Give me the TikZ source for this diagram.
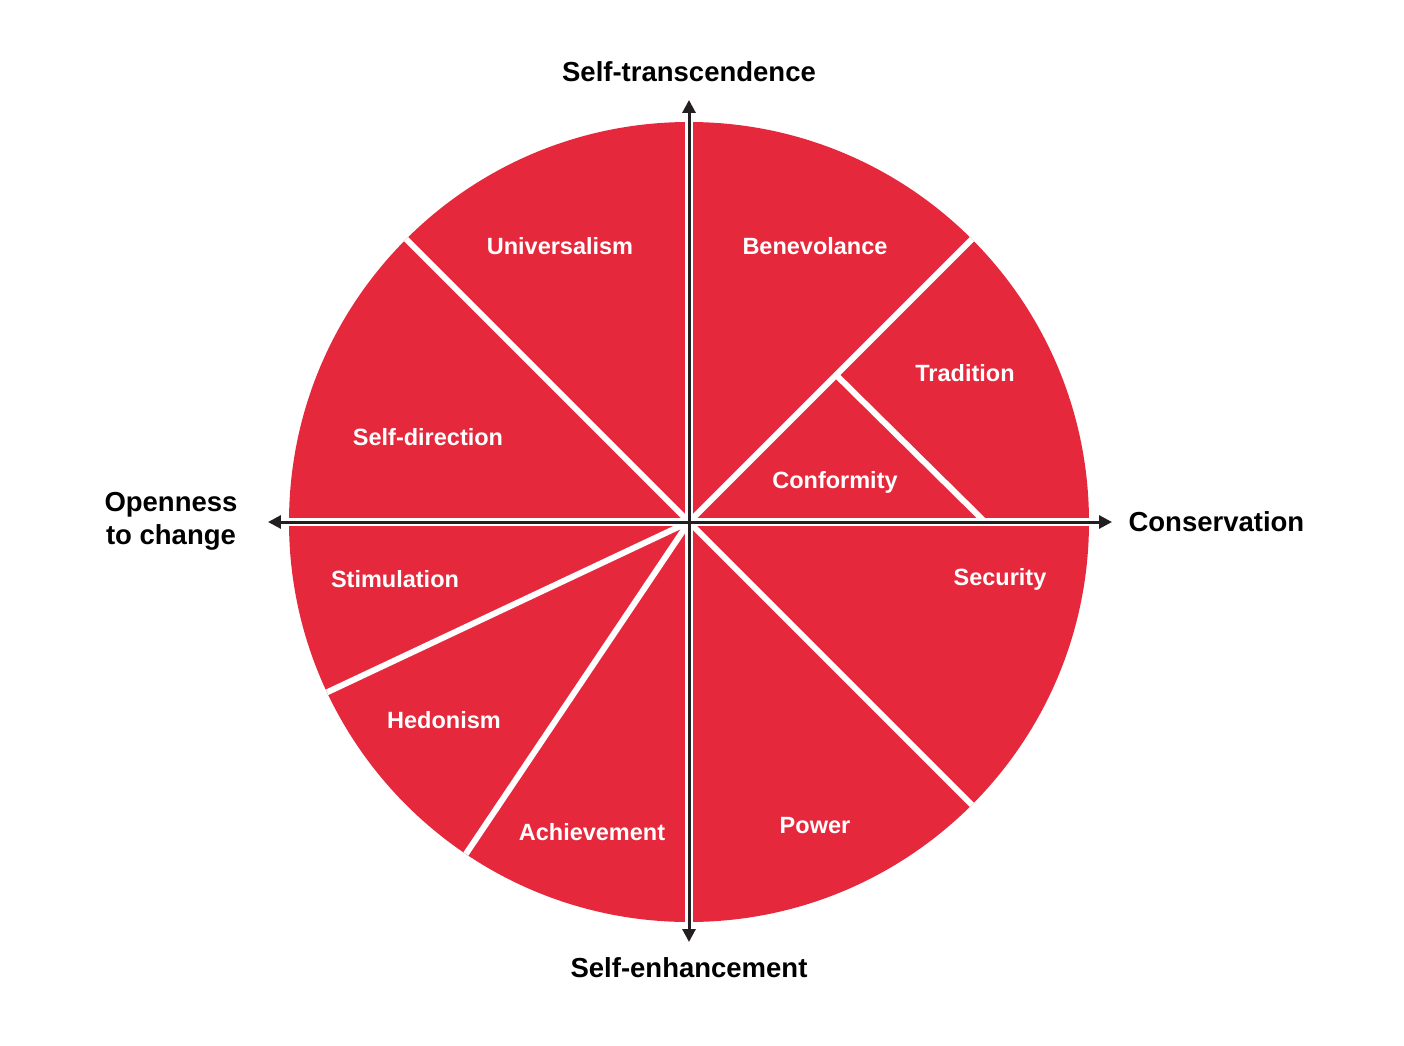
\documentclass[tikz,border=0pt]{standalone}
\usepackage{fontspec}
\setmainfont{Liberation Sans}
\usetikzlibrary{arrows.meta}
\definecolor{wheelred}{RGB}{230,40,60}
\definecolor{axisblack}{RGB}{35,31,32}
\begin{document}
\begin{tikzpicture}[x=1pt,y=1pt,
  divider/.style={white,line width=6pt},
  axisgap/.style={white,line width=8pt},
  axisline/.style={axisblack,line width=3pt,{Triangle[length=13pt,width=13pt]}-{Triangle[length=13pt,width=13pt]}},
  seglabel/.style={text=white,font=\bfseries\fontsize{23.5}{27}\selectfont},
  axislabel/.style={text=black,font=\bfseries\fontsize{27.5}{33}\selectfont,align=center}]
\useasboundingbox (-689,-523) rectangle (715,522);
\coordinate (O) at (0,0);
\fill[wheelred] (O) circle (400);
% dividers
\coordinate (d1) at (135:400);
\coordinate (d2) at (45:400);
\coordinate (d3) at (-45:400);
\coordinate (d4) at (205.2:400);
\coordinate (d5) at (236.1:400);
\coordinate (c1) at (45:208);
\coordinate (c2) at (296,0);
\draw[divider] (O) -- (d1);
\draw[divider] (O) -- (d2);
\draw[divider] (O) -- (d3);
\draw[divider] (O) -- (d4);
\draw[divider] (O) -- (d5);
\draw[divider] (c1) -- (c2);
% axes
\coordinate (top) at (0,422);
\coordinate (bot) at (0,-420);
\coordinate (lft) at (-421,0);
\coordinate (rgt) at (423,0);
\draw[axisgap] (0,400) -- (0,-400);
\draw[axisgap] (-400,0) -- (400,0);
\draw[axisline] (bot) -- (top);
\draw[axisline] (lft) -- (rgt);
% axis labels
\node[axislabel] (st) at (0,450) {Self-transcendence};
\node[axislabel] (se) at (0,-446) {Self-enhancement};
\node[axislabel,anchor=west] (cons) at (436,0) {Conservation};
\node[axislabel] (open) at (-518,1) {Openness\\to change};
% segment labels
\node[seglabel] (uni) at (-129,276) {Universalism};
\node[seglabel] (ben) at (126,276) {Benevolance};
\node[seglabel] (tra) at (276,149) {Tradition};
\node[seglabel] (sd) at (-261,85) {Self-direction};
\node[seglabel] (con) at (146,40) {Conformity};
\node[seglabel] (sti) at (-294,-57) {Stimulation};
\node[seglabel] (sec) at (311,-57) {Security};
\node[seglabel] (hed) at (-245,-198) {Hedonism};
\node[seglabel] (ach) at (-97,-310) {Achievement};
\node[seglabel] (pow) at (126,-304) {Power};
\end{tikzpicture}
\end{document}
